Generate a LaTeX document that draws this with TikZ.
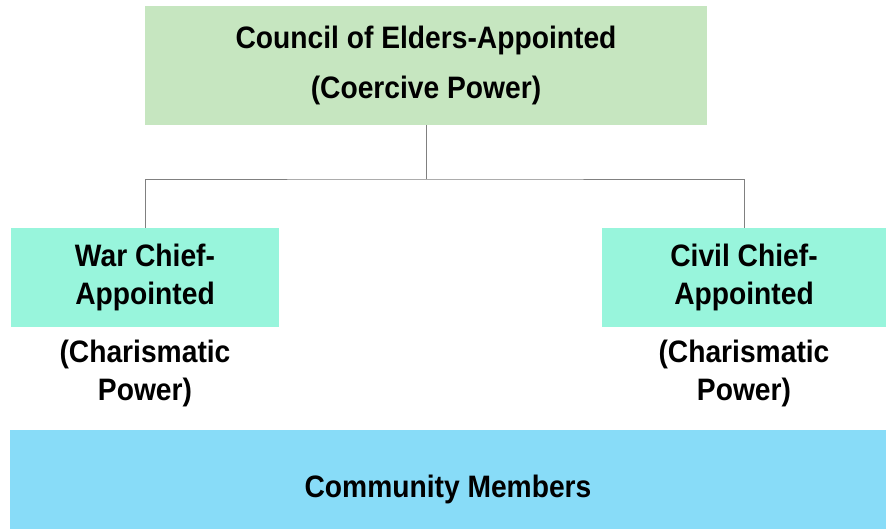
\documentclass[tikz,border=0pt]{standalone}
\usepackage{fontspec}
\setmainfont{Liberation Sans}[FakeStretch=0.91]
\usetikzlibrary{positioning}

\definecolor{eldergreen}{HTML}{C6E6C0}
\definecolor{chiefaqua}{HTML}{98F5DC}
\definecolor{memberblue}{HTML}{88DCF8}

\begin{document}
\begin{tikzpicture}[x=1pt, y=-1pt,
        every node/.style = {align=center, inner sep=0pt,
            font=\fontsize{31}{38}\selectfont\bfseries},
        box/.style = {minimum height=99pt},
        link/.style = {draw=black!50, line width=0.9pt}]
    \useasboundingbox (0,0) rectangle (886,529);
    % the three ranks
    \node[box, fill=eldergreen, minimum width=562pt, minimum height=119pt,
        font=\fontsize{31}{50}\selectfont\bfseries] (council) at (426,65.5)
        {Council of Elders-Appointed\\(Coercive Power)};
    \node[box, fill=chiefaqua, minimum width=268pt] (war) at (145,277.5)
        {War Chief-\\Appointed};
    \node[box, fill=chiefaqua, minimum width=284pt] (civil) at (744,277.5)
        {Civil Chief-\\Appointed};
    \node[below=13pt of war] (warpower) {(Charismatic\\Power)};
    \node[below=13pt of civil] (civilpower) {(Charismatic\\Power)};
    \node[box, fill=memberblue, minimum width=876pt, minimum height=119pt]
        (members) at (448,489.5) {Community Members};
    % connectors
    \coordinate (split) at (council.south |- 0,179);
    \draw[link] (council.south) -- (split);
    \draw[link] (war.north) |- (split) -| (civil.north);
\end{tikzpicture}
\end{document}
